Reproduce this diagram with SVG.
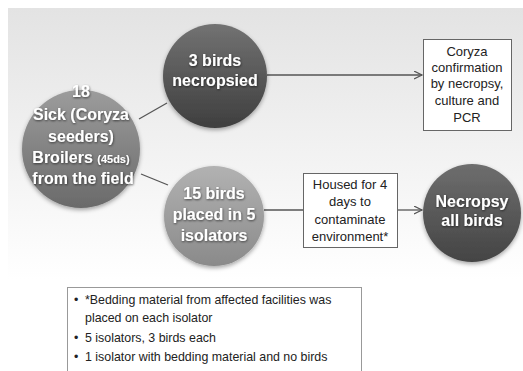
<svg xmlns="http://www.w3.org/2000/svg" width="523" height="371" viewBox="0 0 523 371">
<style>
.ct{font-family:"Liberation Sans",Arial,sans-serif;font-weight:bold;fill:#fff;text-anchor:middle;font-size:16px;filter:url(#ts)}
.bt{font-family:"Liberation Sans",Arial,sans-serif;fill:#222;text-anchor:middle;font-size:13px}
.nt{font-family:"Liberation Sans",Arial,sans-serif;fill:#222;font-size:12.4px}
.box{fill:#fff;stroke:#666;stroke-width:1}
.ln{stroke:#555;stroke-width:1.3;fill:none}
</style>
<defs>
<linearGradient id="bg" x1="0" y1="0" x2="0" y2="1">
<stop offset="0" stop-color="#e3e3e3"/>
<stop offset="0.75" stop-color="#ffffff"/>
</linearGradient>
<linearGradient id="g18" x1="0" y1="0" x2="0" y2="1">
<stop offset="0" stop-color="#9c9c9c"/>
<stop offset="1" stop-color="#6a6a6a"/>
</linearGradient>
<linearGradient id="g3" x1="0" y1="0" x2="0" y2="1">
<stop offset="0" stop-color="#727272"/>
<stop offset="1" stop-color="#3e3e3e"/>
</linearGradient>
<linearGradient id="g15" x1="0" y1="0" x2="0" y2="1">
<stop offset="0" stop-color="#b2b2b2"/>
<stop offset="1" stop-color="#8a8a8a"/>
</linearGradient>
<linearGradient id="gn" x1="0" y1="0" x2="0" y2="1">
<stop offset="0" stop-color="#6e6e6e"/>
<stop offset="1" stop-color="#444444"/>
</linearGradient>
<filter id="sh" x="-20%" y="-20%" width="140%" height="150%">
<feDropShadow dx="0" dy="2" stdDeviation="2" flood-color="#000" flood-opacity="0.35"/>
</filter>
<filter id="ts" x="-10%" y="-20%" width="120%" height="150%">
<feDropShadow dx="0.5" dy="1" stdDeviation="0.8" flood-color="#000" flood-opacity="0.6"/>
</filter>
<marker id="arr" markerWidth="10" markerHeight="10" refX="8" refY="4" orient="auto" markerUnits="userSpaceOnUse">
<path d="M0,0 L8,4 L0,8" fill="none" stroke="#555" stroke-width="1.2"/>
</marker>
</defs>
<rect x="8" y="8" width="515" height="363" fill="url(#bg)"/>
<g id="connectors">
<line class="ln" x1="139" y1="119" x2="167" y2="103"/>
<line class="ln" x1="141" y1="174" x2="168" y2="185"/>
<line class="ln" x1="267" y1="75" x2="422" y2="75" marker-end="url(#arr)"/>
<line class="ln" x1="264" y1="210" x2="303" y2="210"/>
<line class="ln" x1="398" y1="210" x2="422" y2="210" marker-end="url(#arr)"/>
</g>
<g id="n18">
<circle cx="81" cy="149" r="59" fill="url(#g18)" filter="url(#sh)"/>
<text class="ct" x="81" y="97">18</text>
<text class="ct" x="81" y="120">Sick (Coryza</text>
<text class="ct" x="81" y="142">seeders)</text>
<text class="ct" x="81" y="163">Broilers <tspan font-size="11">(45ds)</tspan></text>
<text class="ct" x="83" y="184">from the field</text>
</g>
<g id="n3">
<circle cx="215" cy="76" r="52" fill="url(#g3)" filter="url(#sh)"/>
<text class="ct" x="215" y="66">3 birds</text>
<text class="ct" x="215" y="86">necropsied</text>
</g>
<g id="n15">
<circle cx="214" cy="216" r="50" fill="url(#g15)" filter="url(#sh)"/>
<text class="ct" x="214" y="199">15 birds</text>
<text class="ct" x="214" y="220">placed in 5</text>
<text class="ct" x="214" y="241">isolators</text>
</g>
<g id="nnec">
<circle cx="472" cy="213" r="49" fill="url(#gn)" filter="url(#sh)"/>
<text class="ct" x="472" y="207" font-size="15.5">Necropsy</text>
<text class="ct" x="472" y="226" font-size="15.5">all birds</text>
</g>
<g id="ncoryza">
<rect class="box" x="423.5" y="39.5" width="88" height="91"/>
<text class="bt" x="467" y="56">Coryza</text>
<text class="bt" x="467" y="72">confirmation</text>
<text class="bt" x="467" y="88">by necropsy,</text>
<text class="bt" x="467" y="105">culture and</text>
<text class="bt" x="467" y="122">PCR</text>
</g>
<g id="nhoused">
<rect class="box" x="303.5" y="173.5" width="94" height="74"/>
<text class="bt" x="350" y="189">Housed for 4</text>
<text class="bt" x="350" y="206">days to</text>
<text class="bt" x="350" y="224">contaminate</text>
<text class="bt" x="350" y="241">environment*</text>
</g>
<g id="nnotes">
<rect x="67.5" y="287.5" width="294" height="90" fill="#fff" stroke="#999" stroke-width="1"/>
<text class="nt" x="74" y="304">•</text>
<text class="nt" x="85" y="304">*Bedding material from affected facilities was</text>
<text class="nt" x="85" y="322">placed on each isolator</text>
<text class="nt" x="74" y="342">•</text>
<text class="nt" x="85" y="342">5 isolators, 3 birds each</text>
<text class="nt" x="74" y="361">•</text>
<text class="nt" x="85" y="361">1 isolator with bedding material and no birds</text>
</g>
</svg>
